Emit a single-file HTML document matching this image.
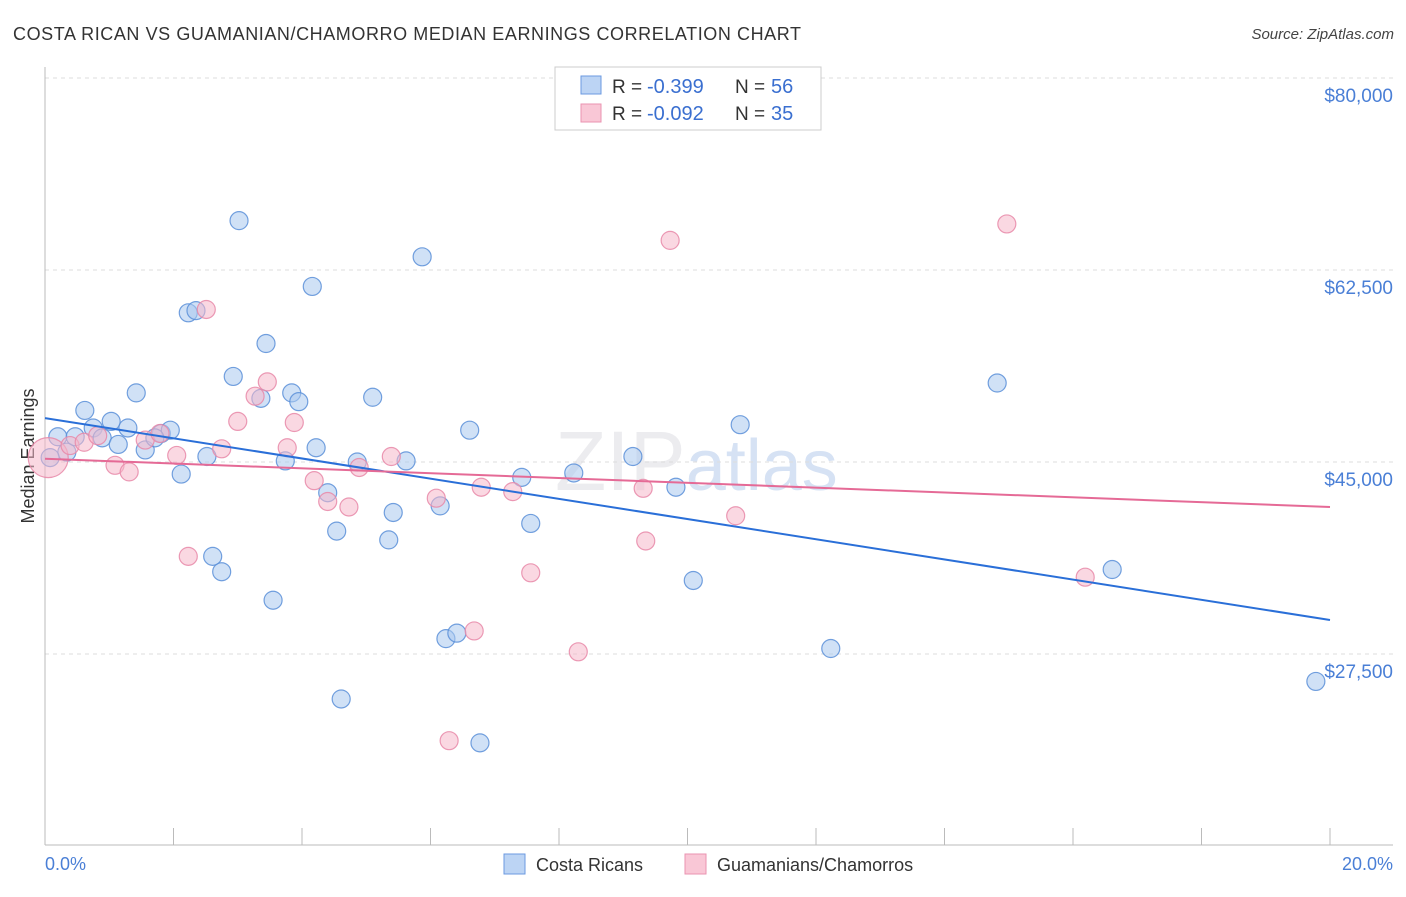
<!DOCTYPE html>
<html><head><meta charset="utf-8"><style>
body{margin:0;background:#fff;font-family:"Liberation Sans",sans-serif}
svg text{font-family:"Liberation Sans",sans-serif}
</style></head><body>
<svg id="c" width="1406" height="892" viewBox="0 0 1406 892" xmlns="http://www.w3.org/2000/svg">
<text x="13" y="40" font-size="18" fill="#333" textLength="788" lengthAdjust="spacing">COSTA RICAN VS GUAMANIAN/CHAMORRO MEDIAN EARNINGS CORRELATION CHART</text>
<text x="1394" y="39" font-size="15" fill="#444" text-anchor="end" font-style="italic">Source: ZipAtlas.com</text>
<text x="555" y="490" font-size="84" fill="#ececef" font-family="Liberation Serif">ZIP<tspan fill="#d6e2f4" font-family="Liberation Sans" font-size="72">atlas</tspan></text>
<g id="grid"></g>
<line x1="45" y1="67" x2="45" y2="845" stroke="#bbb"/>
<line x1="45" y1="845" x2="1393" y2="845" stroke="#bbb"/>
<g id="xt"></g>
<text transform="translate(34,456) rotate(-90)" font-size="18" fill="#333" text-anchor="middle">Median Earnings</text>
<text x="45" y="870" font-size="18" fill="#4a7fd6">0.0%</text>
<text x="1393" y="870" font-size="18" fill="#4a7fd6" text-anchor="end">20.0%</text>
<g id="pts"></g>
<g id="lines"></g>
<g>
<rect x="555" y="67" width="266" height="63" fill="#fff" stroke="#ccc"/>
<rect x="581" y="76" width="20" height="18" fill="#bcd4f4" stroke="#6b9ae0"/>
<rect x="581" y="104" width="20" height="18" fill="#f9c7d6" stroke="#ea93b0"/>
<text x="612" y="93" font-size="19" fill="#333">R =</text>
<text x="647" y="93" font-size="20" fill="#3a6fd0">-0.399</text>
<text x="735" y="93" font-size="19" fill="#333">N =</text>
<text x="771" y="93" font-size="20" fill="#3a6fd0">56</text>
<text x="612" y="120" font-size="19" fill="#333">R =</text>
<text x="647" y="120" font-size="20" fill="#3a6fd0">-0.092</text>
<text x="735" y="120" font-size="19" fill="#333">N =</text>
<text x="771" y="120" font-size="20" fill="#3a6fd0">35</text>
</g>
<g>
<rect x="504" y="854" width="21" height="20" fill="#bcd4f4" stroke="#6b9ae0"/>
<text x="536" y="871" font-size="18" fill="#333">Costa Ricans</text>
<rect x="685" y="854" width="21" height="20" fill="#f9c7d6" stroke="#ea93b0"/>
<text x="717" y="871" font-size="18" fill="#333">Guamanians/Chamorros</text>
</g>
</svg>
<script>
const yTicks=[80000,62500,45000,27500];
const yTickLabels=["$80,000","$62,500","$45,000","$27,500"];
const blueX=[0.20,0.34,0.47,0.62,0.75,0.89,1.03,1.14,1.29,1.42,1.56,1.81,1.95,2.12,2.23,2.35,2.52,2.61,2.75,2.93,3.02,3.36,3.44,3.55,3.74,3.84,3.95,4.16,4.22,4.40,4.54,4.61,4.86,5.10,5.35,5.42,5.62,5.87,6.15,6.24,6.41,6.61,6.77,7.42,7.56,8.23,9.15,9.82,10.09,10.82,12.23,14.82,16.61,19.78,0.08,1.71];
const blueY=[47300,45900,47300,49700,48100,47200,48700,46600,48100,51300,46100,47600,47900,43900,58600,58800,45500,36400,35000,52800,67000,50800,55800,32400,45100,51300,50500,61000,46300,42200,38700,23400,45000,50900,37900,40400,45100,63700,41000,28900,29400,47900,19400,43600,39400,44000,45500,42700,34200,48400,28000,52200,35200,25000,45400,47200];
const pinkX=[0.05,0.39,0.61,0.82,1.09,1.31,1.56,1.79,2.05,2.23,2.51,2.75,3.00,3.27,3.46,3.77,3.88,4.19,4.40,4.73,4.89,5.39,6.09,6.29,6.68,6.79,7.28,7.56,8.30,9.31,9.35,9.73,10.75,14.97,16.19];
const pinkY=[45400,46500,46800,47400,44700,44100,47000,47600,45600,36400,58900,46200,48700,51000,52300,46300,48600,43300,41400,40900,44500,45500,41700,19600,29600,42700,42300,34900,27700,42600,37800,65200,40100,66700,34500];
const blueTrend=[49000,30600];
const pinkTrend=[45300,40900];
const X=p=>45+p/20*1285;
const Y=v=>462-(v-45000)*192/17500;
const NS="http://www.w3.org/2000/svg";
function mk(t,a,parent){const e=document.createElementNS(NS,t);for(const k in a)e.setAttribute(k,a[k]);parent.appendChild(e);return e;}
const grid=document.getElementById('grid');
yTicks.forEach((v,i)=>{
 const l=mk('line',{x1:45,x2:1393,y1:Y(v),y2:Y(v),stroke:'#ddd','stroke-dasharray':'4,4'},grid);
 
 
 const t=mk('text',{x:1393,y:Y(v)+24,'font-size':19,fill:'#4a7fd6','text-anchor':'end'},grid);
 t.textContent=yTickLabels[i];
 
 
});
const xt=document.getElementById('xt');
for(let i=0;i<=10;i++){
 const l=mk('line',{x1:X(i*2),x2:X(i*2),y1:828,y2:845,stroke:'#bbb'},xt);
 
 
}
const pts=document.getElementById('pts');
function draw(xs,ys,fill,stroke,name){
 xs.forEach((x,i)=>{
  const c=mk('circle',{cx:X(x),cy:Y(ys[i]),r:(i===0&&name==='pink-point')?20:9,fill:fill,'fill-opacity':0.55,stroke:stroke,'stroke-opacity':0.85,'stroke-width':1.2},pts);
  
  
 });
}
draw(blueX,blueY,'#a9c8ef','#5b8fd8','blue-point');
draw(pinkX,pinkY,'#f5b8cb','#e888a8','pink-point');
const lines=document.getElementById('lines');
const bl=mk('line',{x1:X(0),x2:X(20),y1:Y(blueTrend[0]),y2:Y(blueTrend[1]),stroke:'#2a6fd8','stroke-width':2},lines);


const pl=mk('line',{x1:X(0),x2:X(20),y1:Y(pinkTrend[0]),y2:Y(pinkTrend[1]),stroke:'#e56a96','stroke-width':2},lines);


</script>
</body></html>
